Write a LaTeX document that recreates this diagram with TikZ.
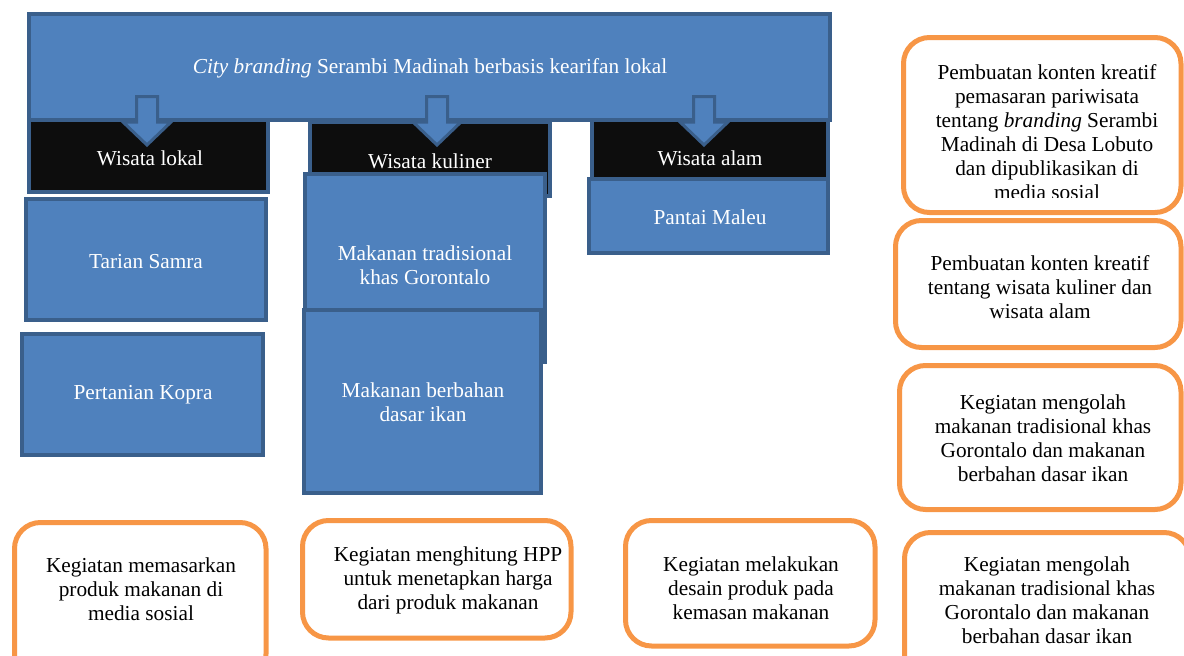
\documentclass[tikz,border=0pt]{standalone}
\usepackage{fontspec}
\setmainfont{Liberation Serif}
\usetikzlibrary{fit}
\definecolor{bfill}{HTML}{4F81BD}
\definecolor{bedge}{HTML}{3A5F8B}
\definecolor{nblack}{HTML}{0D0D0D}
\definecolor{orng}{HTML}{F79646}
\begin{document}
\begin{tikzpicture}[x=1pt,y=-1pt,
  txt/.style={font=\fontsize{21.3}{24}\selectfont, align=center, inner sep=0pt},
  wtxt/.style={txt, text=white},
  btxt/.style={txt, text=black},
  bluebox/.style={draw=bedge, fill=bfill, line width=4pt, inner sep=0pt},
  blackbox/.style={draw=bedge, fill=nblack, line width=4pt, inner sep=0pt},
  obox/.style={draw=orng, fill=white, line width=5pt, rounded corners=26pt, inner sep=0pt},
  barrow/.style={draw=bedge, fill=bfill, line width=3pt, line join=miter}]
\useasboundingbox (0,0) rectangle (1184,656);
% top banner
\node[bluebox, fit={(29,14) (830,120)}] (banner) {};
% black category boxes
\node[blackbox, fit={(29,120) (268,192)}] (lokal) {};
\node[blackbox, fit={(310,122) (550,196)}] (kuliner) {};
\node[blackbox, fit={(592,120) (828,200)}] (alam) {};
% blue sub boxes
\node[bluebox, fit={(26,199) (266,320)}] (tarian) {};
\node[bluebox, fit={(22,334) (263,455)}] (kopra) {};
\node[bluebox, fit={(305,174) (545,362)}] (maktrad) {};
\node[bluebox, fit={(304,310) (541,493)}] (makikan) {};
\node[bluebox, fit={(589,179) (828,253)}] (pantai) {};
% block arrows
\foreach \n/\x in {a1/147, a2/437, a3/704}{
  \coordinate (\n) at (\x,96.5);
  \path[barrow] (\n) ++(-10.5,0) -- ++(21,0) -- ++(0,25.5) -- ++(13.5,0)
     -- ++(-24,23) -- ++(-24,-23) -- ++(13.5,0) -- cycle;
}
% texts in blue/black boxes
\node[wtxt] (tbanner) at (430,68) {\textit{City branding} Serambi Madinah berbasis kearifan lokal};
\node[wtxt] (tlokal) at (150,158) {Wisata lokal};
\node[wtxt] (tkuliner) at (430,161) {Wisata kuliner};
\node[wtxt] (talam) at (710,158) {Wisata alam};
\node[wtxt] (ttarian) at (146,262) {Tarian Samra};
\node[wtxt] (tkopra) at (143,395) {Pertanian Kopra};
\node[wtxt] (tmaktrad) at (425,265) {Makanan tradisional\\khas Gorontalo};
\node[wtxt] (tmakikan) at (423,402) {Makanan berbahan\\dasar ikan};
\node[wtxt] (tpantai) at (710,217) {Pantai Maleu};
% right column orange boxes
\node[obox, fit={(903.5,37.5) (1181,212.5)}] (oa) {};
\begin{scope}
  \clip (880,30) rectangle (1184,197);
  \node[btxt] (toa) at (1047,132) {Pembuatan konten kreatif\\pemasaran pariwisata\\tentang \textit{branding} Serambi\\Madinah di Desa Lobuto\\dan dipublikasikan di\\media sosial};
\end{scope}
\node[obox, fit={(895.5,220.5) (1181,347.5)}] (ob) {};
\node[btxt] (tob) at (1040,287) {Pembuatan konten kreatif\\tentang wisata kuliner dan\\wisata alam};
\node[obox, fit={(899.5,365.5) (1181,509.5)}] (oc) {};
\node[btxt] (toc) at (1043,438.5) {Kegiatan mengolah\\makanan tradisional khas\\Gorontalo dan makanan\\berbahan dasar ikan};
\node[obox, fit={(904.5,532.5) (1190,680)}] (od) {};
\node[btxt] (tod) at (1047,600) {Kegiatan mengolah\\makanan tradisional khas\\Gorontalo dan makanan\\berbahan dasar ikan};
% bottom orange boxes
\node[obox, fit={(14.5,522.5) (266,680)}] (o1) {};
\node[btxt] (to1) at (141,589) {Kegiatan memasarkan\\produk makanan di\\media sosial};
\node[obox, fit={(302.5,520.5) (571,638)}] (o2) {};
\node[btxt] (to2) at (448,580) {Kegiatan menghitung HPP\\untuk menetapkan harga\\dari produk makanan};
\node[obox, fit={(625.5,520.5) (875,646)}] (o3) {};
\node[btxt] (to3) at (751,588) {Kegiatan melakukan\\desain produk pada\\kemasan makanan};
\end{tikzpicture}
\end{document}
